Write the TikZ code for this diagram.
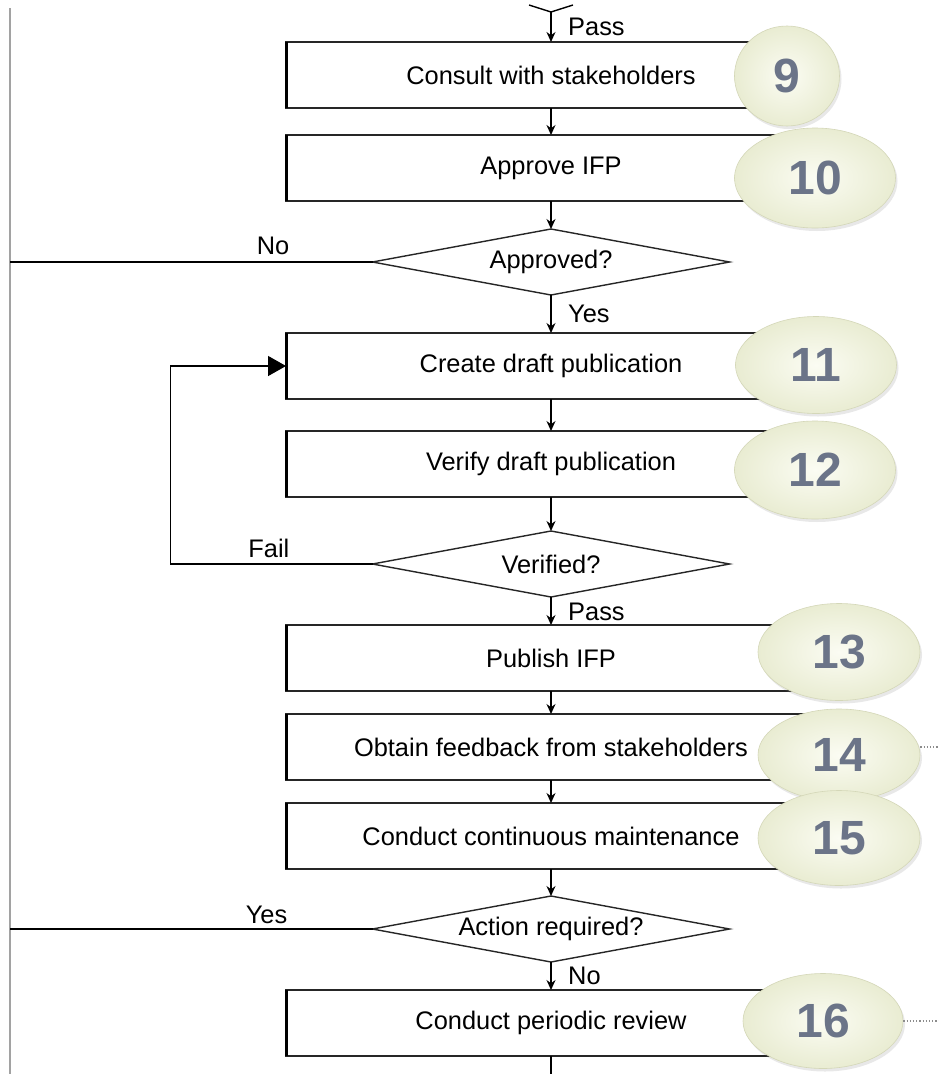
\documentclass[tikz,border=0pt]{standalone}
\usepackage{fontspec}
\setmainfont{Liberation Sans}
\usetikzlibrary{positioning,shapes.geometric,arrows.meta,shadows}

\definecolor{badgefill}{HTML}{E9ECD2}
\definecolor{badgelight}{HTML}{FBFCF3}
\definecolor{badgerim}{HTML}{D4D7B8}
\definecolor{badgetext}{HTML}{6B7488}
\definecolor{railgrey}{HTML}{A2A2A2}

\tikzset{
  stepbox/.style={rectangle, draw=black!85, line width=1.4pt, minimum width=530pt,
    minimum height=66pt, inner sep=0pt, outer sep=0pt, font=\fontsize{25.4}{30}\selectfont},
  leftedge/.style={line width=3pt, draw=black},
  decision/.style={diamond, draw=black!85, line width=1.4pt, minimum width=357pt,
    minimum height=66pt, aspect=5.4, inner sep=0pt, outer sep=0pt, font=\fontsize{25.4}{30}\selectfont},
  badge/.style={ellipse, draw=badgerim, line width=0.6pt, inner color=badgelight,
    outer color=badgefill, text=badgetext, inner sep=0pt,
    font=\fontsize{48}{48}\selectfont\bfseries,
    drop shadow={opacity=0.18, shadow xshift=2pt, shadow yshift=-3pt}},
  lbl/.style={inner sep=0pt, font=\fontsize{25.4}{30}\selectfont},
  link/.style={line width=1.4pt},
  flow/.style={link, -{Stealth[length=10pt,width=9pt]}},
  rail/.style={line width=2pt, draw=railgrey},
  trail/.style={dotted, line width=1.2pt, draw=black!45},
}

\begin{document}
\begin{tikzpicture}[x=1pt,y=1pt]
  \path[use as bounding box, fill=white] (0,0) rectangle (938,-1074);

  % steps
  \coordinate (prevtip) at (551,-12);
  \node[stepbox] (b9) at (551,-75) {Consult with stakeholders};
  \node[stepbox, below = 27pt of b9] (b10) {Approve IFP};
  \node[decision, below = 28pt of b10] (d1) {Approved?};
  \node[stepbox, below = 38pt of d1] (b11) {Create draft publication};
  \node[stepbox, below = 32pt of b11] (b12) {Verify draft publication};
  \node[decision, below = 34pt of b12] (d2) {Verified?};
  \node[stepbox, below = 28pt of d2] (b13) {Publish IFP};
  \node[stepbox, below = 23pt of b13] (b14) {Obtain feedback from stakeholders};
  \node[stepbox, below = 23pt of b14] (b15) {Conduct continuous maintenance};
  \node[decision, below = 27pt of b15] (d3) {Action required?};
  \node[stepbox, below = 28pt of d3] (b16) {Conduct periodic review};
  \coordinate (exit) at (551,-1080);

  \foreach \n in {b9,b10,b11,b12,b13,b14,b15,b16}
    \draw[leftedge] (\n.north west) -- (\n.south west);

  % rail on the left
  \coordinate (railtop) at (10,-8);
  \coordinate (railbot) at (10,-1074);
  \draw[rail] (railtop) -- (railbot);

  % end of the previous decision
  \draw[link] ([xshift=-22pt,yshift=7pt]prevtip) -- (prevtip) -- ([xshift=22pt,yshift=7pt]prevtip);

  \draw[flow] (prevtip) -- (b9);
  \draw[flow] (b9) -- (b10);
  \draw[flow] (b10) -- (d1);
  \draw[flow] (d1) -- (b11);
  \draw[flow] (b11) -- (b12);
  \draw[flow] (b12) -- (d2);
  \draw[flow] (d2) -- (b13);
  \draw[flow] (b13) -- (b14);
  \draw[flow] (b14) -- (b15);
  \draw[flow] (b15) -- (d3);
  \draw[flow] (d3) -- (b16);
  \draw[link] (b16) -- (exit);

  \draw[link] (d1.west) -- (d1.west -| railtop);
  \draw[link] (d3.west) -- (d3.west -| railtop);
  \draw[link, -{Triangle[length=18pt,width=20pt]}] (d2.west) -- ++(-202,0) |- (b11.west);

  % labels
  \node[lbl, below right = 6pt and 17pt of prevtip] (passA) {Pass};
  \node[lbl, above left = 7pt and 83pt of d1.west] (noA) {No};
  \node[lbl, below right = 10pt and 17pt of d1.south] (yesA) {Yes};
  \node[lbl, above left = 6pt and 83pt of d2.west] (failA) {Fail};
  \node[lbl, below right = 6pt and 17pt of d2.south] (passB) {Pass};
  \node[lbl, above left = 5pt and 85pt of d3.west] (yesB) {Yes};
  \node[lbl, below right = 5pt and 17pt of d3.south] (noB) {No};

  % step numbers
  \node[badge, minimum width=105pt, minimum height=100pt] (n9) at ([xshift=-29pt,yshift=-1pt]b9.east) {9};
  \node[badge, minimum width=161pt, minimum height=100pt] (n10) at ([xshift=-1pt,yshift=-10pt]b10.east) {10};
  \node[badge, minimum width=161pt, minimum height=97pt] (n11) at ([yshift=1pt]b11.east) {11};
  \node[badge, minimum width=161pt, minimum height=98pt] (n12) at ([xshift=-1pt,yshift=-6pt]b12.east) {12};
  \node[badge, minimum width=162pt, minimum height=97pt] (n13) at ([xshift=23pt,yshift=6pt]b13.east) {13};
  \node[badge, minimum width=162pt, minimum height=92pt] (n14) at ([xshift=23pt,yshift=-8pt]b14.east) {14};
  \node[badge, minimum width=162pt, minimum height=95pt] (n15) at ([xshift=23pt,yshift=-2pt]b15.east) {15};
  \node[badge, minimum width=160pt, minimum height=95pt] (n16) at ([xshift=7pt,yshift=2pt]b16.east) {16};

  \draw[trail] ([yshift=8pt]n14.east) -- ++(25,0);
  \draw[trail] (n16.east) -- ++(40,0);
\end{tikzpicture}
\end{document}
